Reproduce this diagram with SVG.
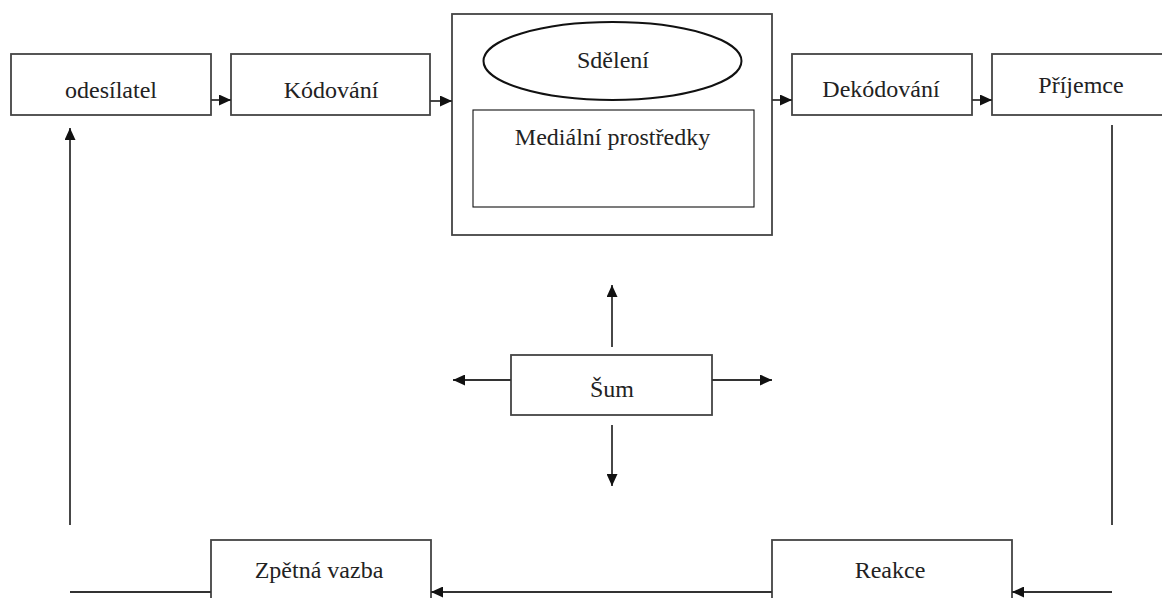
<svg xmlns="http://www.w3.org/2000/svg" width="1162" height="598" viewBox="0 0 1162 598">
<style>
.box{fill:#fff;stroke:#444;stroke-width:1.8}
.thin{fill:#fff;stroke:#111;stroke-width:1.1}
.ell{fill:#fff;stroke:#111;stroke-width:2}
.t{font-family:"Liberation Serif","Times New Roman",serif;font-size:24px;fill:#222;text-anchor:middle}
.c{fill:none;stroke:#333;stroke-width:1.8}
</style>
<defs>
<marker id="ah" markerUnits="userSpaceOnUse" markerWidth="13" markerHeight="11" refX="12" refY="5.5" orient="auto">
<path d="M0,0 L12,5.5 L0,11 Z" fill="#111"/>
</marker>
</defs>
<rect width="1162" height="598" fill="#fff"/>
<g id="odesilatel"><rect class="box" x="11" y="54" width="200" height="61"/><text class="t" x="111" y="98">odesílatel</text></g>
<g id="kodovani"><rect class="box" x="231" y="54" width="199" height="61"/><text class="t" x="331" y="98">Kódování</text></g>
<g id="medium">
<rect class="box" x="452" y="14" width="320" height="221"/>
<ellipse class="ell" cx="612.5" cy="61" rx="129" ry="39"/>
<text class="t" x="613" y="68">Sdělení</text>
<rect class="thin" x="473" y="110" width="281" height="97"/>
<text class="t" x="612.5" y="145">Mediální prostředky</text>
</g>
<g id="dekodovani"><rect class="box" x="792" y="54" width="180" height="61"/><text class="t" x="881" y="97">Dekódování</text></g>
<g id="prijemce"><rect class="box" x="992" y="54" width="180" height="61"/><text class="t" x="1081" y="93">Příjemce</text></g>
<g id="sum"><rect class="box" x="511" y="355" width="201" height="60"/><text class="t" x="612" y="397">Šum</text></g>
<g id="zpetna"><rect class="box" x="211" y="540" width="220" height="70"/><text class="t" x="319" y="578">Zpětná vazba</text></g>
<g id="reakce"><rect class="box" x="772" y="540" width="240" height="70"/><text class="t" x="890" y="578">Reakce</text></g>
<g id="connectors">
<line class="c" x1="211" y1="100" x2="231" y2="100" marker-end="url(#ah)"/>
<line class="c" x1="430" y1="101" x2="452" y2="101" marker-end="url(#ah)"/>
<line class="c" x1="772" y1="100" x2="792" y2="100" marker-end="url(#ah)"/>
<line class="c" x1="972" y1="100" x2="992" y2="100" marker-end="url(#ah)"/>
<line class="c" x1="1112" y1="125" x2="1112" y2="525"/>
<line class="c" x1="1112" y1="592" x2="1012" y2="592" marker-end="url(#ah)"/>
<line class="c" x1="772" y1="592" x2="431" y2="592" marker-end="url(#ah)"/>
<line class="c" x1="211" y1="592" x2="70" y2="592"/>
<line class="c" x1="70" y1="525" x2="70" y2="128" marker-end="url(#ah)"/>
<line class="c" x1="612" y1="347" x2="612" y2="285" marker-end="url(#ah)"/>
<line class="c" x1="612" y1="425" x2="612" y2="486" marker-end="url(#ah)"/>
<line class="c" x1="511" y1="380" x2="453" y2="380" marker-end="url(#ah)"/>
<line class="c" x1="712" y1="380" x2="772" y2="380" marker-end="url(#ah)"/>
</g>
</svg>
